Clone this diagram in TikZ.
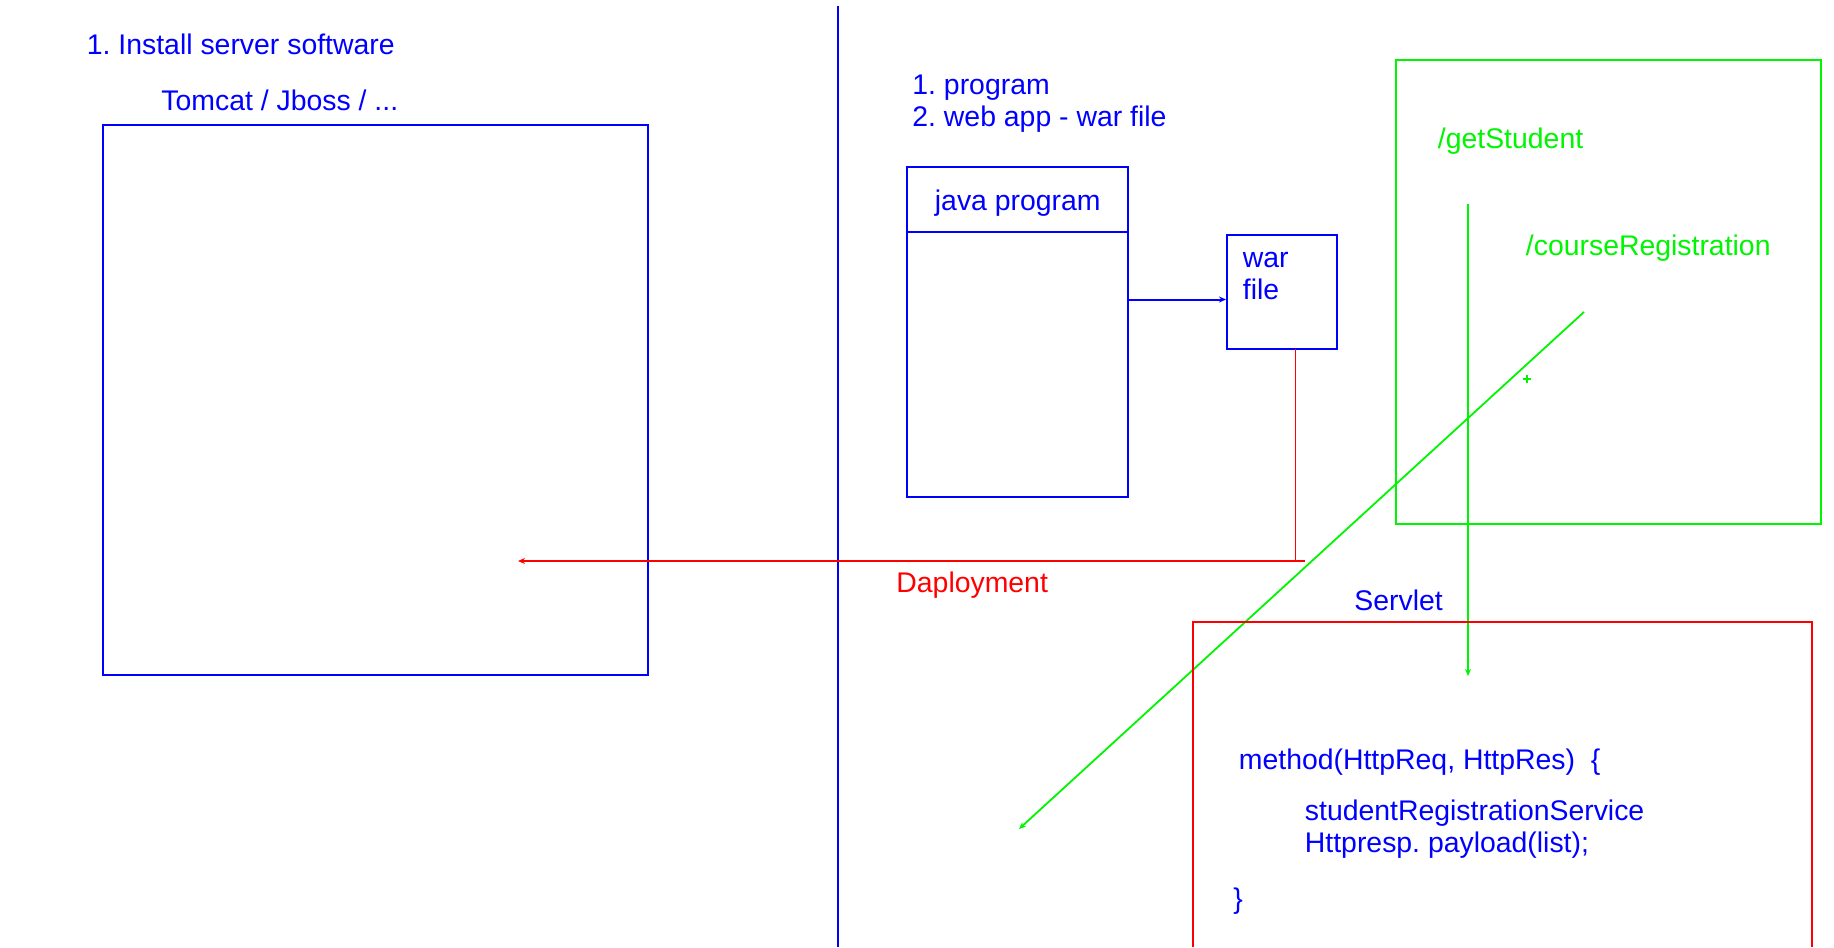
\documentclass[tikz,border=0pt]{standalone}
\usepackage{fontspec}
\setmainfont{Liberation Sans}
\usetikzlibrary{arrows.meta,fit}
\definecolor{pblue}{RGB}{0,0,255}
\definecolor{pred}{RGB}{255,0,0}
\definecolor{pgreen}{RGB}{0,245,0}
\begin{document}
\frenchspacing
\begin{tikzpicture}[x=0.5pt,y=-0.5pt,
  txt/.style={anchor=base west, inner sep=0pt, font=\fontsize{14.2}{16}\selectfont},
  bluebox/.style={draw=pblue, line width=1pt, inner sep=0pt},
  greenbox/.style={draw=pgreen, line width=1pt, inner sep=0pt},
  redline/.style={draw=pred, line width=0.8pt},
  blueline/.style={draw=pblue, line width=1pt},
  greenline/.style={draw=pgreen, line width=0.9pt},
  tip/.style={-{Stealth[length=3.5pt,width=3pt]}}]
\useasboundingbox (0,0) rectangle (1834,947);
\fill[white] (0,0) rectangle (1834,947);

% divider line
\coordinate (vtop) at (838,6);
\coordinate (vbot) at (838,947);
\draw[blueline] (vtop) -- (vbot);

% left side
\node[txt, text=pblue] (t1) at (86.5,55) {1. Install server software};
\node[txt, text=pblue] (t2) at (161,110.5) {Tomcat / Jboss / ...};
\node[bluebox, fit={(102.5,124.5) (647.5,674.5)}] (server) {};

% right side header
\node[txt, text=pblue] (p1) at (912,94.5) {1. program};
\node[txt, text=pblue] (p2) at (912,126.5) {2. web app - war file};

% java program box
\node[bluebox, fit={(907,167) (1127.5,497)}] (java) {};
\coordinate (jdl) at (907,232);
\coordinate (jdr) at (1127.5,232);
\draw[blueline] (jdl) -- (jdr);
\node[txt, text=pblue] (jt) at (934.5,210.5) {java program};

% war file box
\node[bluebox, fit={(1227,235) (1336.5,349)}] (war) {};
\node[txt, text=pblue] (w1) at (1242.5,267) {war};
\node[txt, text=pblue] (w2) at (1242.5,299) {file};
\coordinate (ja) at (1127.5,299.5);
\draw[blueline, tip] (ja) -- (war.west |- ja);

% deployment
\coordinate (dw) at (1295.5,349);
\coordinate (dc) at (1295.5,561);
\coordinate (de) at (1305,561);
\coordinate (dtip) at (518,561);
\draw[redline] (dw) -- (dc);
\draw[redline, tip] (de) -- (dtip);
\node[txt, text=pred] (dl) at (896,592) {Daployment};

% green box
\node[greenbox, fit={(1395.5,60.5) (1820.5,524)}] (urls) {};
\node[txt, text=pgreen] (g1) at (1437.5,148.5) {/getStudent};
\node[txt, text=pgreen] (g2) at (1525.5,255.5) {/courseRegistration};
\coordinate (plus) at (1526.7,379.3);
\draw[greenline] ([xshift=-2pt]plus) -- ([xshift=2pt]plus);
\draw[greenline] ([yshift=-2pt]plus) -- ([yshift=2pt]plus);
\coordinate (ga) at (1468,204);
\coordinate (gb) at (1468,676);
\draw[greenline, tip] (ga) -- (gb);
\coordinate (ca) at (1584,312);
\coordinate (cb) at (1019,829);
\draw[greenline, tip] (ca) -- (cb);

% servlet
\node[txt, text=pblue] (sv) at (1354,610) {Servlet};
\coordinate (s1) at (1193,947);
\coordinate (s2) at (1193,622);
\coordinate (s3) at (1812,622);
\coordinate (s4) at (1812,947);
\draw[redline] (s1) -- (s2) -- (s3) -- (s4);
\node[txt, text=pblue] (m1) at (1238.5,769.5) {method(HttpReq, HttpRes)\ \ \{};
\node[txt, text=pblue] (m2) at (1304.5,820) {studentRegistrationService};
\node[txt, text=pblue] (m3) at (1304.5,852.5) {Httpresp. payload(list);};
\node[txt, text=pblue] (m4) at (1233,908.5) {\}};
\end{tikzpicture}
\end{document}
